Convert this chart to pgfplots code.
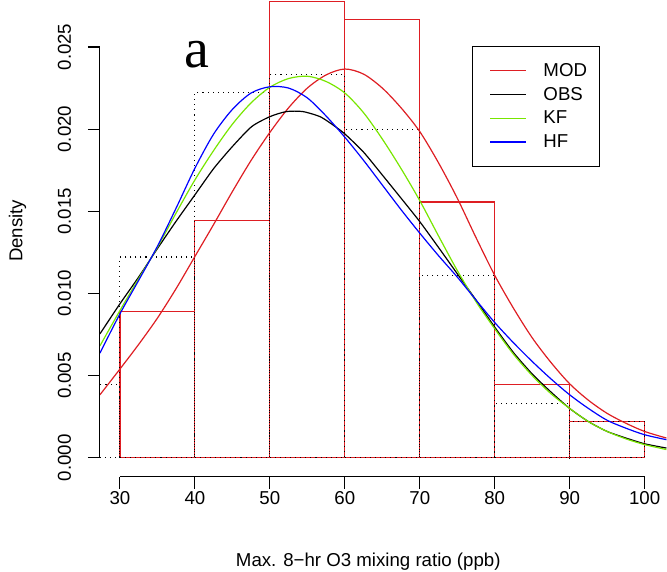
\documentclass[border=0pt]{standalone}
\usepackage{pgfplots}
\pgfplotsset{compat=1.18}
\usepackage{fontspec}
\setmainfont{Liberation Sans}
\newfontfamily\timesfont{Liberation Serif}
\definecolor{mred}{RGB}{222,30,35}
\definecolor{kfgreen}{RGB}{120,230,0}
\definecolor{hfblue}{RGB}{0,0,255}
\begin{document}
\begin{tikzpicture}
\begin{axis}[
  scale only axis,
  width=425.25pt, height=357.8pt,
  xmin=27.33, xmax=102.93, ymin=-0.00116, ymax=0.02786,
  enlargelimits=false,
  clip=false,
  axis lines*=left,
  axis line style={draw=none},
  tick align=outside,
  major tick length=9pt,
  every tick/.style={black, line width=0.8pt},
  minor tick num=0,
  xtick={30,40,50,60,70,80,90,100},
  ytick={0,0.005,0.01,0.015,0.02,0.025},
  scaled y ticks=false,
  /pgf/number format/assume math mode=true,
  tick label style={font=\fontsize{14}{16.8}\selectfont},
  yticklabel={\pgfmathprintnumber[fixed,fixed zerofill,precision=3]{\tick}},
  yticklabel style={rotate=90, anchor=south, inner sep=0pt},
  xticklabel style={anchor=north, inner sep=0pt},
  yticklabel shift=12.5pt,
  xticklabel shift=2pt,
  legend style={at={(axis cs:76.97,0.02506)}, anchor=north west, draw=black, line width=0.75pt,
    inner xsep=7pt, inner ysep=10.6pt, row sep=2.6pt, column sep=10.7pt,
    font=\fontsize{14}{16.8}\selectfont, cells={anchor=west, inner sep=0pt}},
  legend image code/.code={\path[draw=none] (0pt,0pt) -- (6.3pt,0pt); \draw[#1, line width=0.9pt] (6.3pt,0pt) -- (33.1pt,0pt);},
]
% bounding box of the whole figure
\path[draw=none] (axis cs:14,-0.006934) rectangle (axis cs:102.93,0.02786);
% histograms
\addplot[ybar interval, draw=mred, fill=none, line width=0.9pt, forget plot] coordinates {
(30,0.00889) (40,0.01444) (50,0.02778) (60,0.02667) (70,0.01556) (80,0.00444) (90,0.00222) (100,0)};
\addplot[ybar interval, draw=black, fill=none, line width=0.8pt, dash pattern=on 0.8pt off 3pt, forget plot] coordinates {
(27.33,0.00444) (30,0.01222) (40,0.02222) (50,0.02333) (60,0.02) (70,0.01111) (80,0.00333) (90,0.00222) (100,0)};
% density curves
\addplot[mred, line width=0.9pt, smooth, tension=0.5] coordinates {
(27.33,0.00383) (30,0.0054) (32.5,0.0069) (35,0.0085) (37.5,0.0103) (40,0.01225) (42.5,0.0142) (45,0.0162) (47.5,0.0181) (50,0.0198) (52.5,0.0213) (55,0.0225) (57.5,0.0233) (60,0.02366) (62.5,0.02335) (65,0.0225) (67.5,0.0213) (70,0.01985) (72.5,0.01795) (75,0.0158) (77.5,0.0134) (80,0.0111) (82.5,0.0091) (85,0.0073) (87.5,0.0058) (90,0.0045) (92.5,0.0035) (95,0.0027) (97.5,0.0021) (100,0.0016) (102.9,0.0012)};
\addlegendentry{MOD}
\addplot[black, line width=0.9pt, smooth, tension=0.4] coordinates {
(27.33,0.00754) (30,0.00937) (32.5,0.0110) (35,0.01273) (37.5,0.0144) (40,0.0160) (42.5,0.0176) (45,0.01894) (47.56,0.02015) (50,0.02076) (52.2,0.02107) (54.4,0.02107) (56.7,0.02076) (58.4,0.02026) (60,0.01971) (62.5,0.0186) (65,0.01721) (67.5,0.0158) (70,0.01437) (72.5,0.0128) (75,0.0112) (77.5,0.0096) (80,0.00795) (82.5,0.0064) (85,0.0051) (87.5,0.0040) (90,0.0030) (92.5,0.0022) (95,0.0016) (97.5,0.0012) (100,0.00085) (102.9,0.00059)};
\addlegendentry{OBS}
\addplot[kfgreen, line width=0.9pt, smooth, tension=0.5] coordinates {
(27.33,0.00681) (30,0.00896) (32.5,0.0109) (35,0.01281) (37.5,0.0149) (40,0.01691) (42.5,0.0187) (45,0.0203) (47.5,0.0216) (50,0.02255) (52.5,0.02308) (55,0.02322) (57.5,0.0229) (60,0.0222) (62.5,0.0210) (65,0.0194) (67.5,0.0176) (70,0.01565) (72.5,0.0135) (75,0.0114) (77.5,0.0095) (80,0.00785) (82.5,0.0063) (85,0.0050) (87.5,0.0039) (90,0.0030) (92.5,0.0022) (95,0.0016) (97.5,0.00115) (100,0.0008) (102.9,0.0005)};
\addlegendentry{KF}
\addplot[hfblue, line width=0.9pt, smooth, tension=0.5] coordinates {
(27.33,0.00637) (30,0.00876) (32.5,0.0108) (35,0.01287) (37.5,0.0152) (40,0.01762) (42.5,0.0197) (45,0.0212) (47.5,0.0222) (50,0.02258) (52.5,0.0225) (55,0.0219) (57.5,0.0208) (60,0.01951) (62.5,0.0181) (65,0.0166) (67.5,0.0151) (70,0.01367) (72.5,0.0123) (75,0.0110) (77.5,0.0096) (80,0.00823) (82.5,0.0070) (85,0.00586) (87.5,0.0048) (90,0.00383) (92.5,0.0030) (95,0.00228) (97.5,0.0018) (100,0.0014) (102.9,0.0011)};
\addlegendentry{HF}
% axis lines (R style: from first to last tick)
\draw[black, line width=0.8pt] (axis cs:27.33,0) -- (axis cs:27.33,0.025);
\draw[black, line width=0.8pt] (axis cs:30,-0.00116) -- (axis cs:100,-0.00116);
% texts
\node[font=\timesfont\fontsize{42}{42}\selectfont, inner sep=0pt] at (axis cs:40.27,0.02451) {a};
\node[font=\fontsize{14}{16.8}\selectfont, inner sep=0pt] at (axis cs:63.13,-0.00634) {Max. 8−hr O3 mixing ratio (ppb)};
\node[font=\fontsize{14}{16.8}\selectfont, inner sep=0pt, rotate=90] at (axis cs:16.33,0.01381) {Density};
\end{axis}
\end{tikzpicture}
\end{document}
